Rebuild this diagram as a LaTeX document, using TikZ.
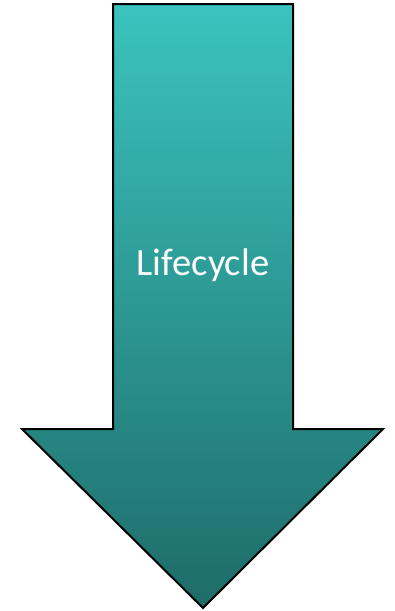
\documentclass[tikz,border=0pt]{standalone}
\usepackage{fontspec}
\setmainfont{Carlito}
\definecolor{arrtop}{HTML}{3BC3BF}
\definecolor{arrbot}{HTML}{1E6C68}
\begin{document}
\begin{tikzpicture}[x=1pt,y=-1pt,
  arrowbody/.style={draw=black,line width=2pt,line join=miter,top color=arrtop,bottom color=arrbot},
  lbl/.style={text=white,font=\fontsize{38.5}{42}\selectfont,inner sep=0pt}]
\useasboundingbox (0,0) rectangle (394,611);
\path[arrowbody] (113,4) -- (293,4) -- (293,429) -- (383,429) -- (203,608) -- (22,429) -- (113,429) -- cycle;
\node[lbl] (label) at (203,265) {Lifecycle};
\end{tikzpicture}
\end{document}
